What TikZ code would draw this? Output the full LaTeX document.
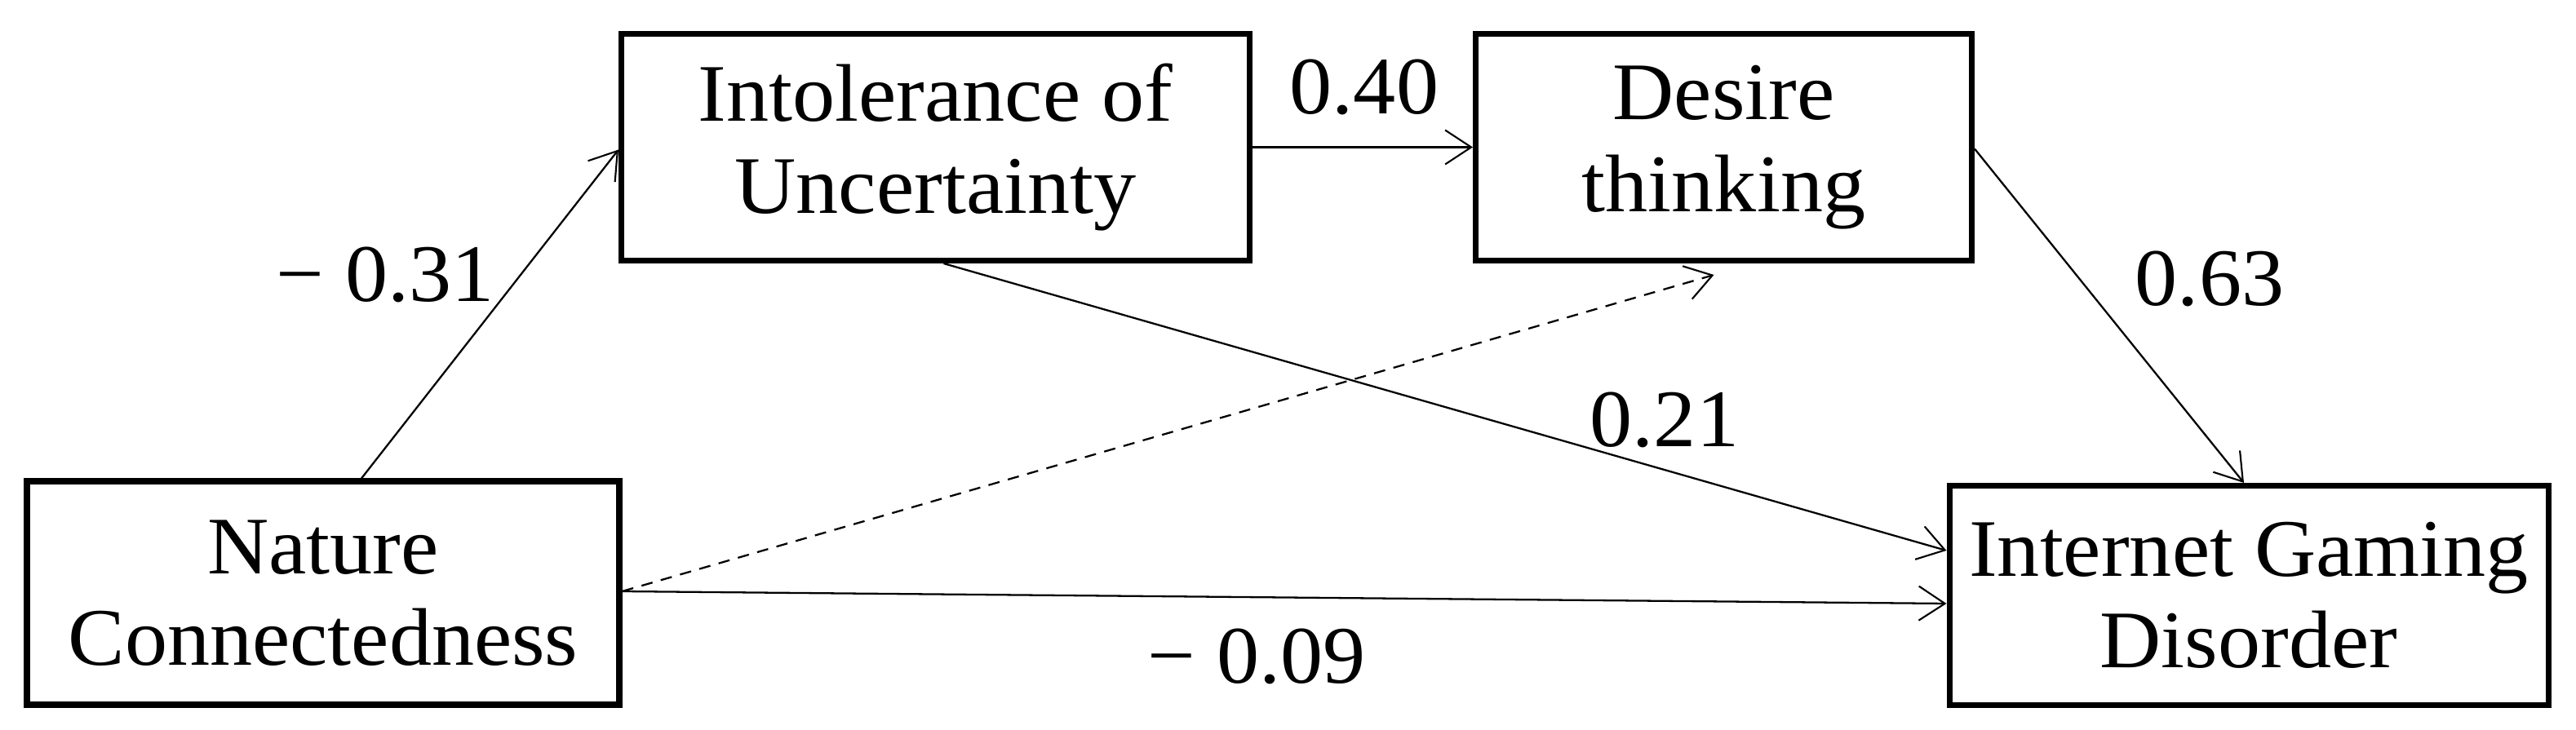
\documentclass[tikz,border=0pt]{standalone}
\usepackage{fontspec}
\setmainfont{Liberation Serif}[FakeStretch=1.04]
\usepackage{tikz}
\usetikzlibrary{arrows.meta,positioning,calc}

\begin{document}
\begin{tikzpicture}[
    x=1cm,y=1cm,
    var/.style  = {rectangle,draw=black,line width=2pt,fill=white,align=center,
                   font=\fontsize{28.5}{32}\selectfont,inner sep=0pt},
    fl/.style   = {-{Straight Barb[length=3.2mm,width=4.2mm,line width=0.6pt]},line width=0.65pt},
    ns/.style   = {fl,dashed,dash pattern=on 4pt off 3pt},
    coef/.style = {font=\fontsize{28.5}{32}\selectfont,inner sep=0pt},
  ]
  \useasboundingbox (0,0) rectangle (31.57,8.95);

  \node[var,minimum width=7.26cm,minimum height=2.74cm] (nc)  at (3.96,1.68)
       {Nature\\Connectedness};
  \node[var,minimum width=7.70cm,minimum height=2.78cm] (iu)  at (11.465,7.145)
       {Intolerance of\\Uncertainty};
  \node[var,minimum width=6.08cm,minimum height=2.78cm] (dt)  at (21.125,7.145)
       {Desire\\thinking};
  \node[var,minimum width=7.34cm,minimum height=2.69cm] (igd) at (27.56,1.65)
       {Internet Gaming\\Disorder};

  % paths
  \draw[fl] ($(nc.north)+(0.47,0)$) -- ($(iu.west)+(0,-0.03)$);
  \draw[fl] (iu.east) -- (dt.west);
  \draw[fl] ($(iu.south)+(0.10,0)$) -- ($(igd.west)+(0,0.55)$);
  \draw[fl] ($(dt.east)+(0,-0.02)$) -- ($(igd.north)+(-0.06,0)$);
  \draw[fl] ($(nc.east)+(0,0.02)$)  -- ($(igd.west)+(0,-0.10)$);
  \draw[ns] ($(nc.east)+(0,0.02)$)  -- ($(dt.south)+(-0.12,-0.14)$);

  % coefficients
  \node[coef] (c1) at (4.72,5.58)  {− 0.31};
  \node[coef] (c2) at (16.72,7.88) {0.40};
  \node[coef] (c3) at (20.40,3.80) {0.21};
  \node[coef] (c4) at (27.08,5.53) {0.63};
  \node[coef] (c5) at (15.40,0.90) {− 0.09};

\end{tikzpicture}
\end{document}
